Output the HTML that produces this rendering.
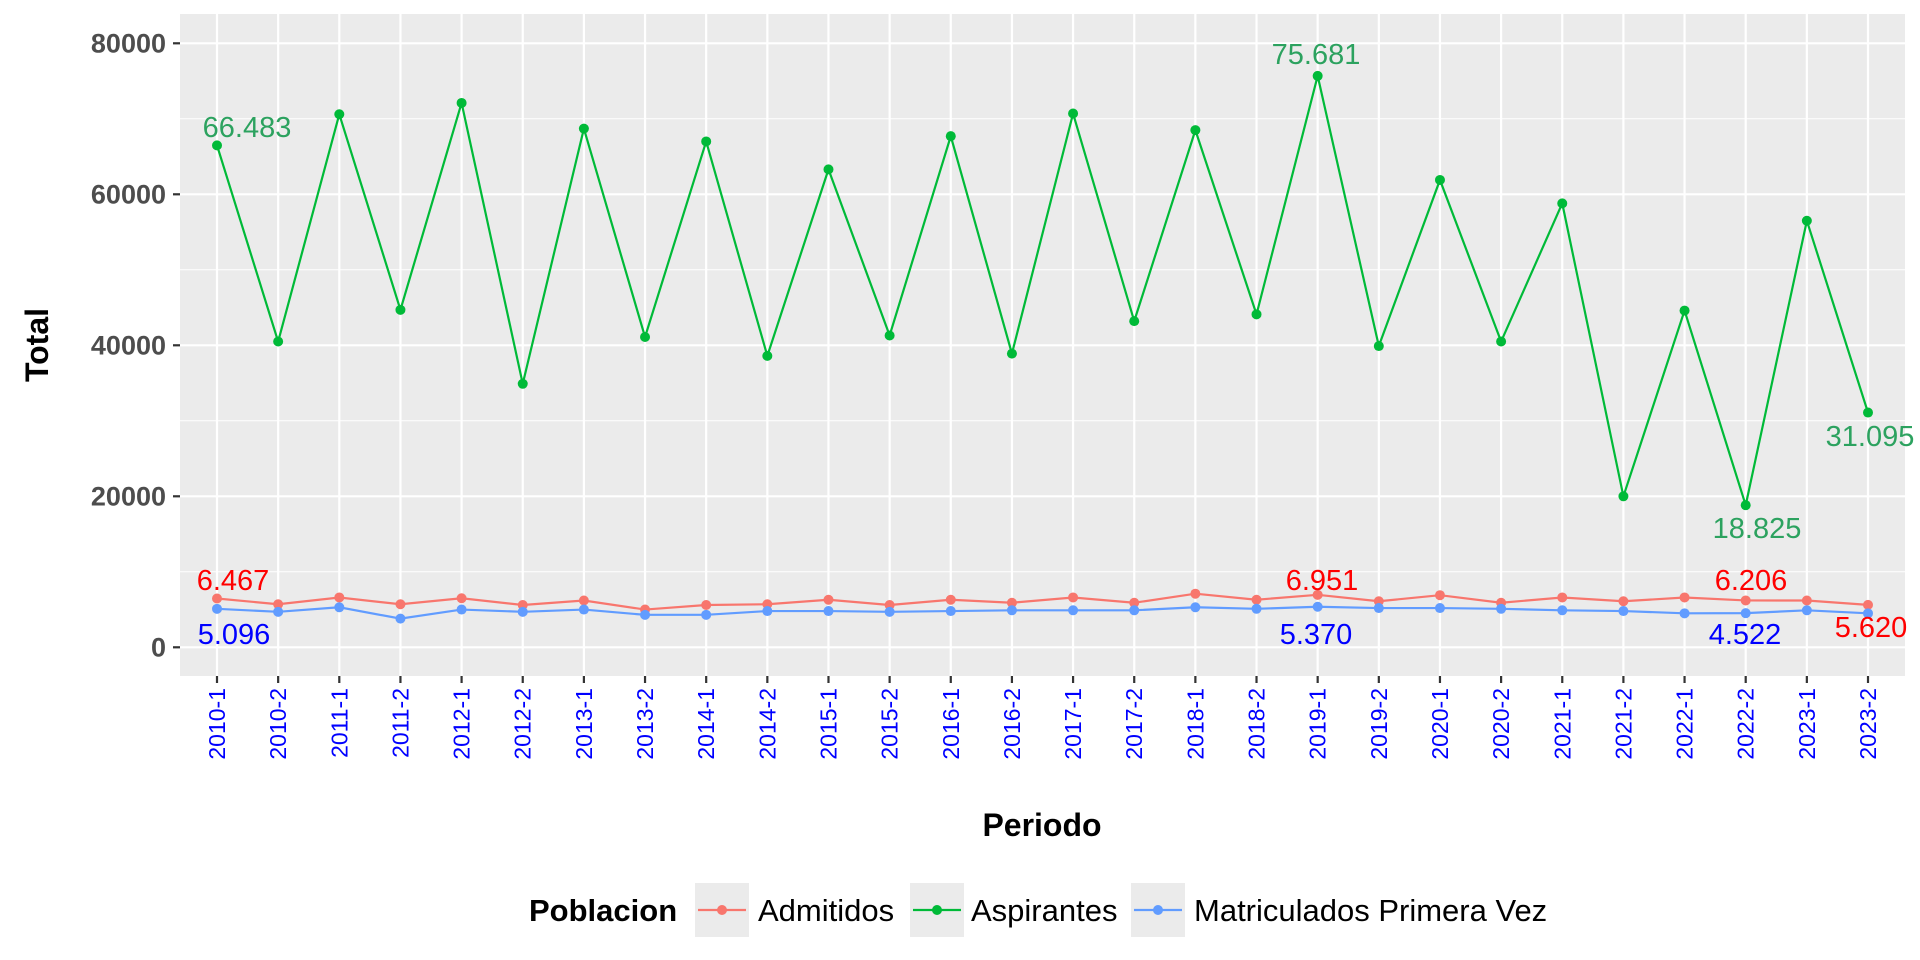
<!DOCTYPE html>
<html><head><meta charset="utf-8"><style>body{margin:0;background:#fff}svg{display:block;font-family:"Liberation Sans",Arial,sans-serif}</style></head>
<body>
<svg id="s" width="1920" height="960" xmlns="http://www.w3.org/2000/svg"></svg>
<script>
const L=180,R=1905,T=14,B=676;
const x=i=>217+i*(1868-217)/27, y=v=>647.3-v*0.00755;
const asp=[66483,40500,70600,44700,72100,34900,68700,41100,67000,38600,63300,41300,67700,38900,70700,43200,68500,44100,75681,39900,61900,40500,58800,20000,44600,18825,56500,31095];
const adm=[6467,5700,6600,5700,6500,5600,6200,5000,5600,5700,6300,5600,6300,5900,6600,5900,7100,6300,6951,6100,6900,5900,6600,6100,6600,6206,6200,5620];
const mat=[5096,4700,5300,3800,5000,4700,5000,4300,4300,4800,4800,4700,4800,4900,4900,4900,5300,5100,5370,5200,5200,5100,4900,4800,4500,4522,4900,4500];
let h=`<rect x="${L}" y="${T}" width="${R-L}" height="${B-T}" fill="#EBEBEB"/>`;
for(let v=10000;v<=70000;v+=20000)h+=`<line x1="${L}" x2="${R}" y1="${y(v)}" y2="${y(v)}" stroke="#fff" stroke-width="1"/>`;
for(let v=0;v<=80000;v+=20000){h+=`<line x1="${L}" x2="${R}" y1="${y(v)}" y2="${y(v)}" stroke="#fff" stroke-width="2.2"/>`;
h+=`<line x1="173" x2="180" y1="${y(v)}" y2="${y(v)}" stroke="#333" stroke-width="2.2"/><text x="166" y="${y(v)+9}" text-anchor="end" font-size="27" font-weight="bold" fill="#4D4D4D">${v}</text>`;}
const per=[];for(let yr=2010;yr<=2023;yr++){per.push(yr+"-1");per.push(yr+"-2");}
per.forEach((p,i)=>{h+=`<line x1="${x(i)}" x2="${x(i)}" y1="${T}" y2="${B}" stroke="#fff" stroke-width="2.2"/><line x1="${x(i)}" x2="${x(i)}" y1="${B}" y2="${B+7}" stroke="#333" stroke-width="2.2"/>`;
h+=`<text transform="translate(${x(i)+8},${B+12}) rotate(-90)" text-anchor="end" font-size="23" fill="#0000FF">${p}</text>`;});
function ser(d,c){h+=`<polyline fill="none" stroke="${c}" stroke-width="2.2" points="${d.map((v,i)=>x(i)+','+y(v)).join(' ')}"/>`;d.forEach((v,i)=>h+=`<circle cx="${x(i)}" cy="${y(v)}" r="5" fill="${c}"/>`);}
ser(adm,"#F8766D");ser(asp,"#00BA38");ser(mat,"#619CFF");
const lab=[["66.483",247,127,"#2CA25F"],["75.681",1316,54,"#2CA25F"],["31.095",1870,436,"#2CA25F"],["18.825",1757,528,"#2CA25F"],["6.467",233,580,"#FF0000"],["6.951",1322,580,"#FF0000"],["6.206",1751,580,"#FF0000"],["5.620",1871,627,"#FF0000"],["5.096",234,634,"#0000FF"],["5.370",1316,634,"#0000FF"],["4.522",1745,634,"#0000FF"]];
lab.forEach(l=>h+=`<text x="${l[1]}" y="${l[2]+10}" text-anchor="middle" font-size="29" fill="${l[3]}">${l[0]}</text>`);
h+=`<text x="1042" y="836" text-anchor="middle" font-size="32" font-weight="bold">Periodo</text>`;
h+=`<text transform="translate(48,345) rotate(-90)" text-anchor="middle" font-size="32" font-weight="bold">Total</text>`;
h+=`<text x="529" y="921" font-size="31" font-weight="bold">Poblacion</text>`;
[[695,758,"Admitidos","#F8766D"],[910,971,"Aspirantes","#00BA38"],[1131,1194,"Matriculados Primera Vez","#619CFF"]].forEach(k=>{
h+=`<rect x="${k[0]}" y="883" width="54" height="54" fill="#EBEBEB"/><line x1="${k[0]+3}" x2="${k[0]+51}" y1="910" y2="910" stroke="${k[3]}" stroke-width="2.2"/><circle cx="${k[0]+27}" cy="910" r="5" fill="${k[3]}"/><text x="${k[1]}" y="921" font-size="31">${k[2]}</text>`;});
document.getElementById("s").innerHTML=h;
</script>
</body></html>
